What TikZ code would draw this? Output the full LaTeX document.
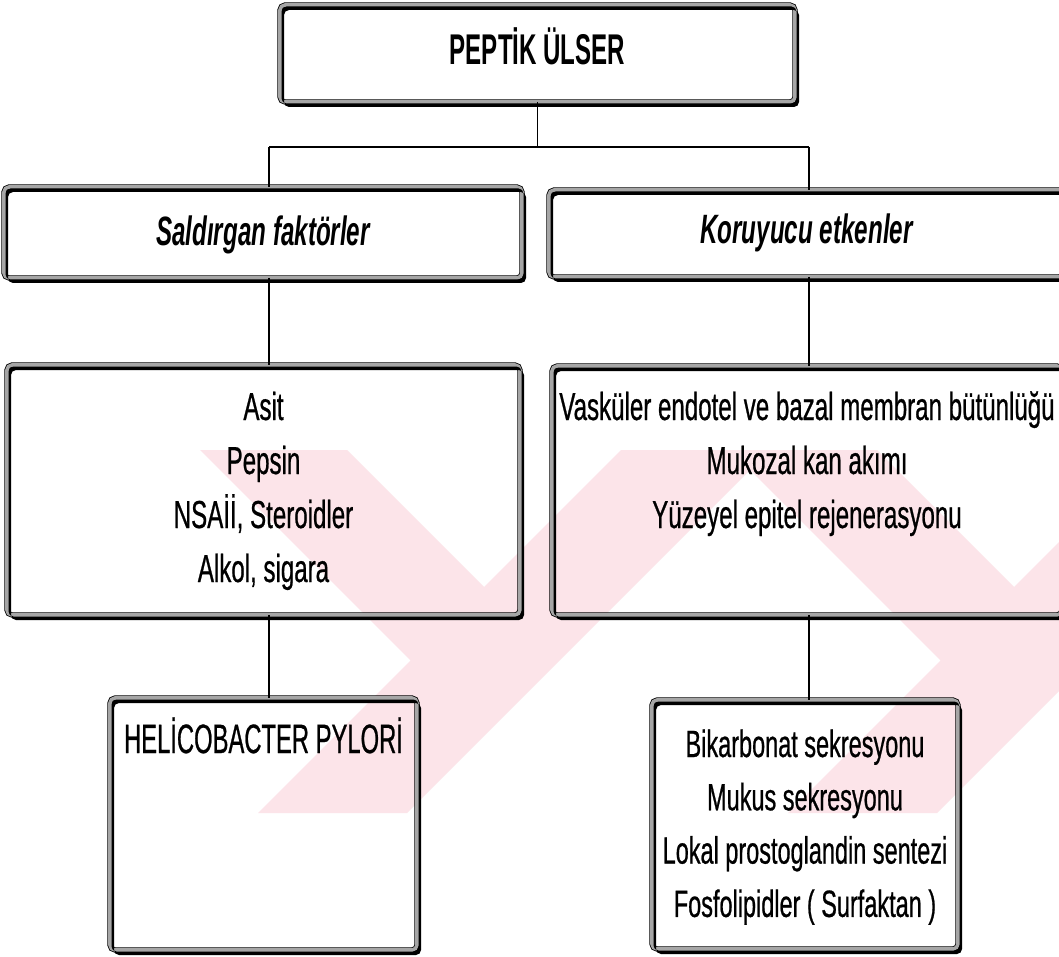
\documentclass[tikz,border=0pt]{standalone}
\usepackage{fontspec}
\setmainfont{Liberation Sans}
\newfontfamily\titlefont[FakeStretch=0.56]{Liberation Sans}
\newfontfamily\headfont[FakeStretch=0.59]{Liberation Sans}
\newfontfamily\bodyfont[FakeStretch=0.618,FakeBold=0.6]{Liberation Sans}
\newfontfamily\hpfont[FakeStretch=0.58,FakeBold=0.6]{Liberation Sans}
\definecolor{wmpink}{RGB}{252,228,233}
\newcommand\panelbox[4]{\parbox[c][#2][t]{#1}{\centering\rule{0pt}{#3}#4\par}}
\tikzset{
  panel/.style={draw=black, line width=0.8pt, double=black!35, double distance=3.6pt,
    rounded corners=5pt, inner sep=0pt, outer sep=0pt},
  conn/.style={draw=black, line width=1.2pt},
  shadowfill/.style={fill=black, even odd rule, rounded corners=5pt},
}
\newcommand\boxshadow[1]{%
  \fill[shadowfill] ([shift={(4,5)}]#1.north west) rectangle ([shift={(4,5)}]#1.south east)
    ([shift={(1.5,1.5)}]#1.north west) rectangle ([shift={(1.5,1.5)}]#1.south east);}
\begin{document}
\begin{tikzpicture}[x=1pt,y=-1pt]
\useasboundingbox (0,0) rectangle (1059,957);
\clip (0,0) rectangle (1059,957);
\fill[white] (0,0) rectangle (1059,957);

% watermark
\begin{scope}
  \clip (185,450) rectangle (1059,813);
  \fill[wmpink] (200,450) -- (347,450) -- (484,587) -- (621,450) -- (770,450)
    -- (407,813) -- (258,813) -- (410.5,660.5) -- cycle;
  \fill[wmpink] (730,450) -- (877,450) -- (1014,587) -- (1151,450) -- (1300,450)
    -- (937,813) -- (788,813) -- (940.5,660.5) -- cycle;
\end{scope}

% boxes
\node[panel, font=\titlefont\bfseries\fontsize{43}{50}\selectfont] (top) at (537.5,53.5)
  {\panelbox{515pt}{97pt}{60pt}{PEPTİK ÜLSER}};
\node[panel, font=\headfont\bfseries\itshape\fontsize{41}{48}\selectfont] (lh) at (263,232.5)
  {\panelbox{518pt}{91pt}{58.5pt}{Saldırgan faktörler}};
\node[panel, font=\headfont\bfseries\itshape\fontsize{41}{48}\selectfont] (rh) at (806.5,233.5)
  {\panelbox{515pt}{87pt}{54pt}{Koruyucu etkenler}};
\node[panel, font=\bodyfont\fontsize{39}{54}\selectfont] (lm) at (263.5,490)
  {\panelbox{513pt}{250pt}{55pt}{Asit\\Pepsin\\NSAİİ, Steroidler\\Alkol, sigara}};
\node[panel, font=\bodyfont\fontsize{39}{54}\selectfont] (rm) at (807,490.5)
  {\panelbox{510pt}{249pt}{54pt}{Vasküler endotel ve bazal membran bütünlüğü\\Mukozal kan akımı\\Yüzeyel epitel rejenerasyonu}};
\node[panel, font=\hpfont\fontsize{41}{48}\selectfont] (hp) at (263.5,824)
  {\panelbox{307pt}{252pt}{55pt}{HELİCOBACTER PYLORİ}};
\node[panel, font=\bodyfont\fontsize{38}{53.3}\selectfont] (bik) at (805,824.5)
  {\panelbox{306pt}{249pt}{57pt}{Bikarbonat sekresyonu\\Mukus sekresyonu\\Lokal prostoglandin sentezi\\Fosfolipidler ( Surfaktan )}};

% shadows
\boxshadow{top}
\boxshadow{lh}
\boxshadow{rh}
\boxshadow{lm}
\boxshadow{rm}
\boxshadow{hp}
\boxshadow{bik}

% connectors
\coordinate (jl) at (269,147);
\coordinate (jr) at (809,147);
\draw[conn] (top.south) -- (top.south |- jl);
\draw[conn] (jl) -- (jr);
\draw[conn] (jl) -- (jl |- lh.north);
\draw[conn] (jr) -- (jr |- rh.north);
\draw[conn] (jl |- lh.south) -- (jl |- lm.north);
\draw[conn] (jr |- rh.south) -- (jr |- rm.north);
\draw[conn] (jl |- lm.south) -- (jl |- hp.north);
\draw[conn] (jr |- rm.south) -- (jr |- bik.north);
\end{tikzpicture}
\end{document}
